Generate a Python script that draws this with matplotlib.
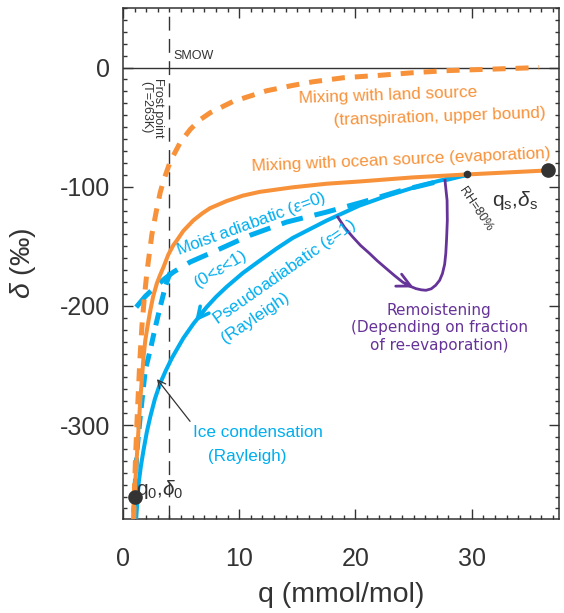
import matplotlib
matplotlib.use('Agg')
import matplotlib.pyplot as plt
from matplotlib.ticker import MultipleLocator

plt.rcParams['font.family'] = ['Liberation Sans', 'DejaVu Sans']
plt.rcParams['axes.unicode_minus'] = False
plt.rcParams['mathtext.fontset'] = 'custom'
plt.rcParams['mathtext.rm'] = 'Liberation Sans'
plt.rcParams['mathtext.it'] = 'Liberation Sans:italic'

# curves: q (mmol/mol), delta (permil)
ocean_q = [0.89, 0.98, 1.23, 1.49, 1.77, 1.92, 2.1, 2.35, 2.6, 2.92, 3.2, 3.49, 3.9, 4.34, 4.64, 5.2, 6.06,
           6.8, 7.49, 8.92, 10.3, 11.77, 14.6, 17.5, 20.35, 24.9, 29.6, 36.6]
ocean_d = [-379, -360, -321, -279, -243, -229, -218, -204, -192, -181, -174, -167.4, -157, -149, -145, -137, -128.2,
           -122.5, -118, -112, -107.5, -104.3, -100.5, -97.5, -95.6, -92.2, -89.7, -86.3]

land_q = [0.93, 1.0, 1.1, 1.23, 1.45, 1.64, 1.85, 2.07, 2.49, 2.86, 3.2, 3.49, 4.06, 4.92, 5.78, 6.6, 7.49,
          9.46, 12.35, 14.6, 16.3, 19.0, 22.1, 25.0, 27.8, 31.5, 35.8]
land_d = [-379, -350, -323, -292, -246, -216, -192, -171, -140, -121, -105, -95, -79, -63, -52, -44, -38,
          -28.5, -19.5, -15, -12, -8.5, -6.5, -4.3, -2.6, -1.4, 0]

rayleigh_q = [1.15, 1.35, 1.55, 1.77, 2.05, 2.35, 2.75, 3.2, 3.7, 4.2, 4.49, 5.2, 6.06, 7.2, 8.0, 8.92, 10.3,
              11.77, 13.2, 14.6, 17.5, 20.3, 22.6, 24.9, 27.2, 29.6]
rayleigh_d = [-377, -348.7, -334, -321, -306, -293, -278, -265, -254, -244, -239, -227, -215, -201, -192.5, -184, -172.5,
              -162, -152, -143, -128.5, -116, -108, -101, -95, -89.7]

moist_q = [29.6, 24.0, 20.6, 17.5, 14.06, 10.92, 8.06, 5.78, 4.34, 3.63, 2.92, 1.92, 1.06]
moist_d = [-89.7, -103, -112.9, -121.3, -129.7, -140.8, -153.4, -163.2, -171.6, -176.9, -182.7, -192, -202]

mixed_q = [4.06, 3.63, 3.2, 2.78, 2.35, 1.92, 1.49, 1.21, 1.06, 0.92]
mixed_d = [-171.8, -184.4, -201, -218, -237, -254, -293, -321, -348.7, -377]

remoist_q = [18.48, 19.06, 19.77, 20.43, 21.2, 21.88, 22.63, 23.34, 24.05, 24.62, 25.2, 25.65, 26.06, 26.51,
             26.9, 27.24, 27.48, 27.67, 27.77, 27.84, 27.9, 27.88, 27.7]
remoist_d = [-125.5, -134.1, -142.2, -149.2, -155.9, -162.2, -168.5, -174.4, -180, -183.2, -185.5, -186.5, -186.9, -185.7,
             -182.7, -178.5, -172.9, -165.1, -155.9, -143.3, -128.2, -111.5, -94.7]

q_surface, d_surface = 36.6, -86.3
q_rh80, d_rh80 = 29.6, -89.7
q_init, d_init = 1.0, -360
q_frost = 4.0

orange = '#f7923a'
blue = '#00aeef'
purple = '#663399'
dark = '#333333'

fig = plt.figure(figsize=(5.64, 6.13), dpi=100)
ax = fig.add_axes([0.218, 0.153, 0.773, 0.834])

ax.axhline(0, color=dark, lw=1.0, zorder=1)
ax.axvline(q_frost, color=dark, lw=1.0, dashes=(10, 6), zorder=1)

ax.plot(rayleigh_q, rayleigh_d, color=blue, lw=2.9, zorder=3)
ax.plot(moist_q, moist_d, color=blue, lw=3.6, dashes=(4.4, 2.4), zorder=3)
ax.plot(mixed_q, mixed_d, color=blue, lw=3.6, dashes=(2.6, 1.6), zorder=3)
ax.plot(land_q, land_d, color=orange, lw=3.6, dashes=(2.6, 2.0), zorder=4)
ax.plot(ocean_q, ocean_d, color=orange, lw=2.9, zorder=4)
ax.plot(remoist_q, remoist_d, color=purple, lw=2.0, zorder=3)

# arrow heads
ax.annotate('', xy=(remoist_q[10], remoist_d[10]), xytext=(remoist_q[8], remoist_d[8]),
            arrowprops=dict(arrowstyle='->', color=purple, lw=2.0, mutation_scale=24), zorder=5)
ax.annotate('', xy=(rayleigh_q[12], rayleigh_d[12]), xytext=(rayleigh_q[13], rayleigh_d[13]),
            arrowprops=dict(arrowstyle='->', color=blue, lw=2.6, mutation_scale=20), zorder=5)
ax.annotate('', xy=(2.78, -259.6), xytext=(5.92, -298.7),
            arrowprops=dict(arrowstyle='->', color=dark, lw=0.9, mutation_scale=14), zorder=5)

ax.plot([q_surface], [d_surface], 'o', color=dark, ms=9.5, zorder=6)
ax.plot([q_init], [d_init], 'o', color=dark, ms=9.5, zorder=6)
ax.plot([q_rh80], [d_rh80], 'o', color=dark, ms=4.5, zorder=6)

# labels
fs = 12.3
ax.text(4.32, 10, 'SMOW', fontsize=9, color=dark, ha='left', va='center')
ax.text(2.48, -33.5, 'Frost point\n(T=263K)', fontsize=9, color=dark, rotation=270,
        ha='center', va='center', multialignment='center', linespacing=1.0)
ax.text(22.8, -23, 'Mixing with land source', fontsize=fs, color=orange,
        ha='center', va='center', rotation=2)
ax.text(27.2, -41, '(transpiration, upper bound)', fontsize=fs, color=orange,
        ha='center', va='center', rotation=2)
ax.text(23.9, -77.5, 'Mixing with ocean source (evaporation)', fontsize=fs, color=orange,
        ha='center', va='center', rotation=2.5)
ax.text(11.0, -131.6, r'Moist adiabatic ($\varepsilon$=0)', fontsize=fs, color=blue,
        ha='center', va='center', rotation=20)
ax.text(8.35, -170, r'(0<$\varepsilon$<1)', fontsize=fs, color=blue,
        ha='center', va='center', rotation=31)
ax.text(13.9, -171.8, r'Pseudoadiabatic ($\varepsilon$=1)', fontsize=fs, color=blue,
        ha='center', va='center', rotation=35)
ax.text(11.35, -210, '(Rayleigh)', fontsize=fs, color=blue,
        ha='center', va='center', rotation=34)
ax.text(11.6, -306, 'Ice condensation', fontsize=fs, color=blue, ha='center', va='center')
ax.text(10.7, -326, '(Rayleigh)', fontsize=fs, color=blue, ha='center', va='center')
ax.text(27.2, -218.5, 'Remoistening\n(Depending on fraction\nof re-evaporation)',
        fontsize=11, color=purple, family='DejaVu Sans', ha='center', va='center',
        multialignment='center', linespacing=1.2)
ax.text(30.3, -119, 'RH=80%', fontsize=9, color=dark, rotation=-56, ha='center', va='center')
ax.text(31.75, -111.5, r'q$_\mathrm{s}$,$\delta_\mathrm{s}$', fontsize=15, color=dark,
        ha='left', va='center')
ax.text(1.16, -354, r'q$_\mathrm{0}$,$\delta_\mathrm{0}$', fontsize=15, color=dark,
        ha='left', va='center')

ax.set_xlim(0, 37.5)
ax.set_ylim(-379, 50)
ax.xaxis.set_major_locator(MultipleLocator(10))
ax.xaxis.set_minor_locator(MultipleLocator(1))
ax.yaxis.set_major_locator(MultipleLocator(100))
ax.yaxis.set_minor_locator(MultipleLocator(10))
ax.tick_params(which='both', direction='in', top=True, right=True, color=dark, width=1.0)
ax.tick_params(which='major', length=7.5, labelsize=18, labelcolor=dark)
ax.tick_params(which='minor', length=3)
ax.tick_params(axis='x', which='major', pad=20)
ax.tick_params(axis='y', which='major', pad=9)
for s in ax.spines.values():
    s.set_color(dark)
    s.set_linewidth(1.1)

ax.set_xlabel('q (mmol/mol)', fontsize=20.5, color=dark, labelpad=8)
ax.set_ylabel(r'$\delta$ (‰)', fontsize=20.5, color=dark, labelpad=16)

plt.savefig('out.png', dpi=100)
